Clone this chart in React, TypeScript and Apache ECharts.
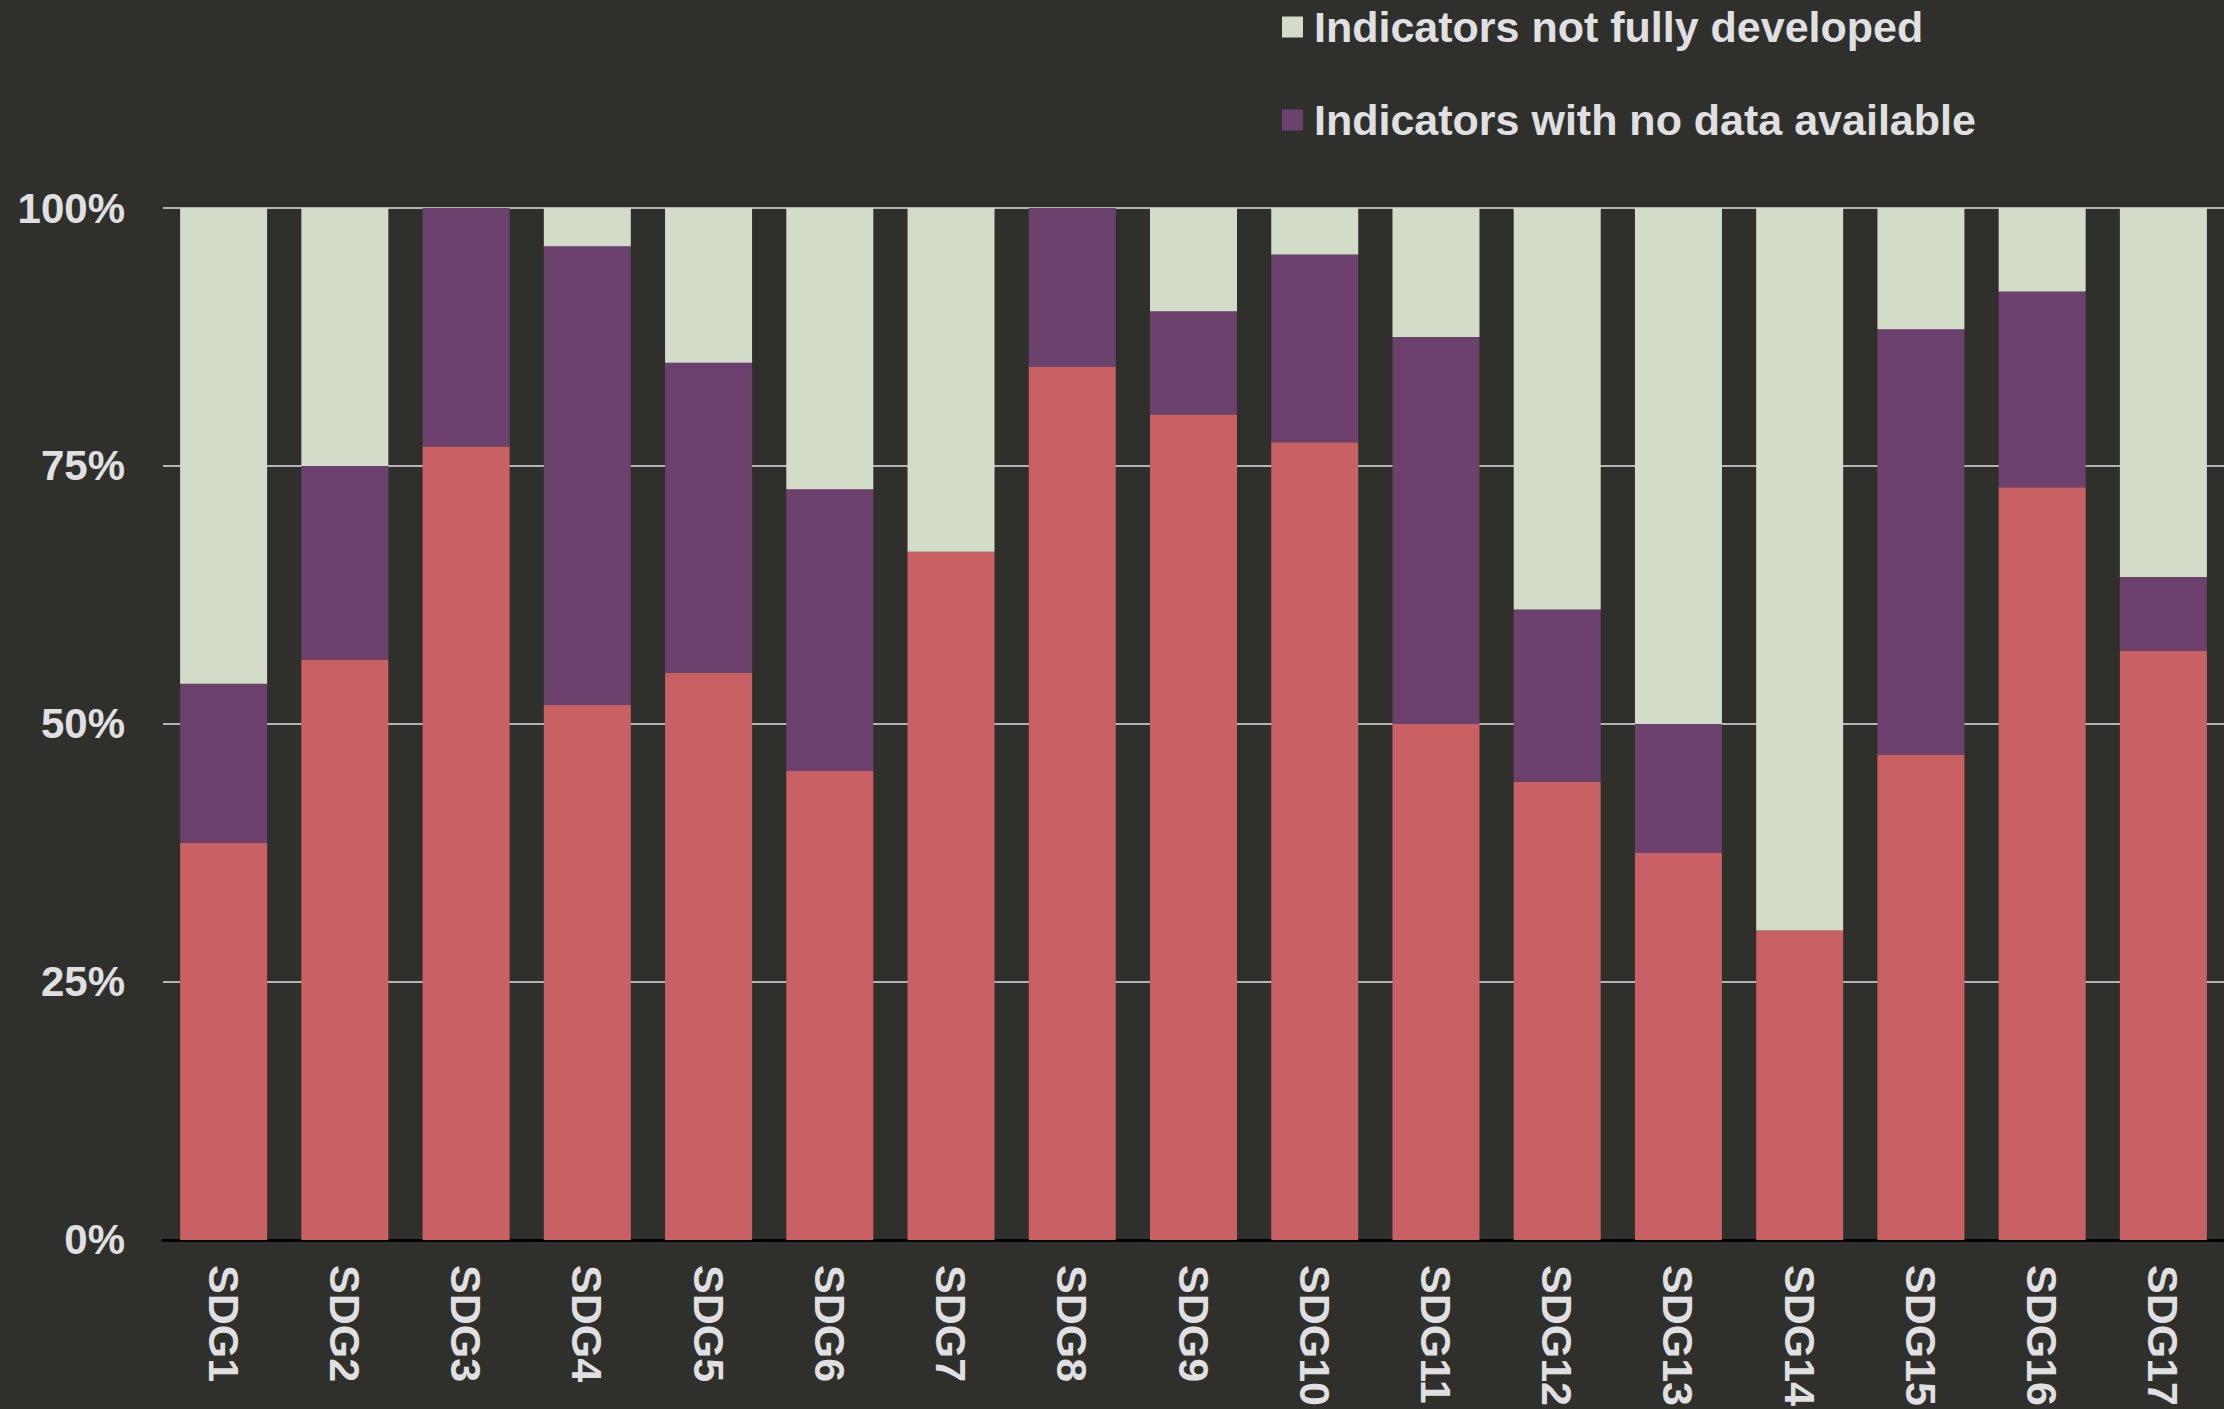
import React, { useEffect, useRef } from "react";
import * as echarts from "echarts";

const categories = ["SDG1","SDG2","SDG3","SDG4","SDG5","SDG6","SDG7","SDG8","SDG9","SDG10","SDG11","SDG12","SDG13","SDG14","SDG15","SDG16","SDG17"];
const withData = [38.5, 56.25, 76.9, 51.85, 55.0, 45.45, 66.7, 84.6, 80.0, 77.3, 50.0, 44.4, 37.5, 30.0, 47.05, 72.95, 57.1];
const noData = [15.4, 18.75, 23.1, 44.45, 30.0, 27.3, 0, 15.4, 10.0, 18.2, 37.5, 16.7, 12.5, 0, 41.2, 18.95, 7.15];
const notDeveloped = [46.1, 25.0, 0, 3.7, 15.0, 27.25, 33.3, 0, 10.0, 4.5, 12.5, 38.9, 50.0, 70.0, 11.75, 8.1, 35.75];
const yTicks = [0, 25, 50, 75, 100];

const BG = "#2f302c";
const TXT = "#e0e0e2";

export default function App() {
  const ref = useRef<HTMLDivElement>(null);
  useEffect(() => {
    document.body.style.margin = "0";
    const chart = echarts.init(ref.current!, null, { renderer: "svg" });
    chart.setOption({
      animation: false,
      backgroundColor: BG,
      textStyle: { fontFamily: "Liberation Sans, Arial, sans-serif" },
      legend: {
        orient: "vertical",
        left: 1282,
        top: 5,
        padding: 0,
        itemWidth: 21,
        itemHeight: 21,
        itemGap: 49,
        data: [
          { name: "Indicators not fully developed", icon: "rect" },
          { name: "Indicators with no data available", icon: "rect" },
        ],
        textStyle: { color: TXT, fontSize: 43, fontWeight: "bold", lineHeight: 44, padding: [0, 0, 0, 6] },
      },
      grid: { left: 163, top: 208, width: 2065, bottom: 168, containLabel: false },
      xAxis: {
        type: "category",
        data: categories,
        axisLine: { lineStyle: { color: "#000000", width: 3 } },
        axisTick: { show: false },
        axisLabel: { rotate: -90, margin: 25, color: TXT, fontSize: 43, fontWeight: "bold" },
      },
      yAxis: {
        type: "value",
        min: 0,
        max: 100,
        interval: 25,
        axisLine: { show: false },
        axisTick: { show: false },
        splitLine: { lineStyle: { color: "#b4b4b4", width: 2 } },
        axisLabel: {
          margin: 38,
          color: TXT,
          fontSize: 42,
          fontWeight: "bold",
          formatter: (v: number) => (yTicks.includes(v) ? v + "%" : ""),
        },
      },
      series: [
        {
          name: "Indicators with data available",
          type: "bar",
          stack: "s",
          barWidth: 87,
          data: withData,
          itemStyle: { color: "#c96063" },
        },
        {
          name: "Indicators with no data available",
          type: "bar",
          stack: "s",
          barWidth: 87,
          data: noData,
          itemStyle: { color: "#6d416d" },
        },
        {
          name: "Indicators not fully developed",
          type: "bar",
          stack: "s",
          barWidth: 87,
          data: notDeveloped,
          itemStyle: { color: "#d2dcc9" },
        },
      ],
    });
    return () => chart.dispose();
  }, []);
  return (
    <div
      ref={ref}
      style={{ position: "fixed", left: 0, top: 0, width: 2224, height: 1409 }}
    />
  );
}
